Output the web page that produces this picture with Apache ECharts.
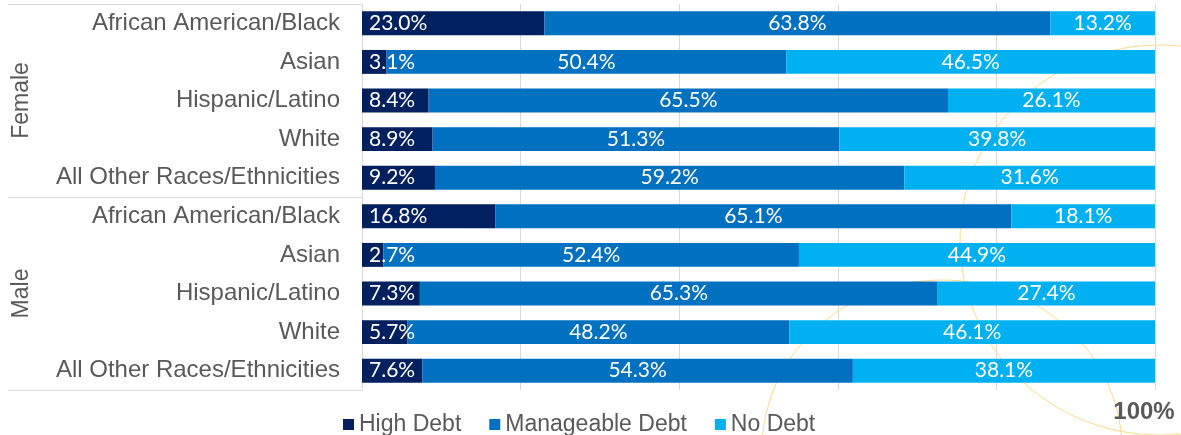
<!DOCTYPE html>
<html>
<head>
<meta charset="utf-8">
<script src="https://cdn.jsdelivr.net/npm/echarts@6/dist/echarts.min.js"></script>
<style>
html,body{margin:0;padding:0;background:#fff;}
#chart{width:1181px;height:435px;}
</style>
</head>
<body>
<div id="chart"></div>
<script>
const categories = [
  'African American/Black', 'Asian', 'Hispanic/Latino', 'White', 'All Other Races/Ethnicities',
  'African American/Black', 'Asian', 'Hispanic/Latino', 'White', 'All Other Races/Ethnicities'
];
const groups = ['Female', 'Male'];
const seriesNames = ['High Debt', 'Manageable Debt', 'No Debt'];
const highDebt = [23.0, 3.1, 8.4, 8.9, 9.2, 16.8, 2.7, 7.3, 5.7, 7.6];
const manageableDebt = [63.8, 50.4, 65.5, 51.3, 59.2, 65.1, 52.4, 65.3, 48.2, 54.3];
const noDebt = [13.2, 46.5, 26.1, 39.8, 31.6, 18.1, 44.9, 27.4, 46.1, 38.1];
const xTickLabel = '100%';

const colors = ['#002060', '#0070C0', '#00B0F0'];
const labelFont = 'Lato, "Open Sans", sans-serif';
const axisFont = '"Liberation Sans", Arial, sans-serif';

const chart = echarts.init(document.getElementById('chart'), null, {renderer: 'canvas'});

function makeSeries(name, data, idx) {
  return {
    name: name,
    type: 'bar',
    stack: 'total',
    barWidth: '62%',
    data: data,
    itemStyle: {color: colors[idx]},
    label: {
      show: true,
      position: idx === 0 ? 'insideLeft' : 'inside',
      distance: 7,
      color: '#fff',
      fontFamily: labelFont,
      fontWeight: 400,
      fontSize: 21,
      formatter: p => p.value.toFixed(1) + '%'
    },
    emphasis: {disabled: true}
  };
}

chart.setOption({
  animation: false,
  color: colors,
  grid: {left: 362, right: 26, top: 4, bottom: 45, containLabel: false},
  legend: {
    data: seriesNames,
    left: 338,
    top: 408,
    icon: 'rect',
    itemWidth: 11,
    itemHeight: 11,
    itemGap: 28,
    textStyle: {color: '#595959', fontSize: 23, fontFamily: axisFont}
  },
  xAxis: {
    type: 'value',
    min: 0,
    max: 100,
    interval: 20,
    axisLine: {show: false},
    axisTick: {show: false},
    splitLine: {show: true, lineStyle: {color: '#d9d9d9', width: 1}},
    axisLabel: {
      show: true,
      margin: 10,
      color: '#595959',
      fontSize: 24,
      fontWeight: 'bold',
      fontFamily: axisFont,
      padding: [0, 22, 0, 0],
      formatter: v => (v === 100 ? xTickLabel : '')
    }
  },
  yAxis: [
    {
      type: 'category',
      data: categories,
      inverse: true,
      axisLine: {show: true, lineStyle: {color: '#d9d9d9'}},
      axisTick: {show: false},
      axisLabel: {
        color: '#595959',
        fontSize: 24,
        fontFamily: axisFont,
        margin: 22,
        padding: [4, 0, 0, 0],
        interval: 0
      }
    },
    {
      type: 'category',
      data: groups,
      inverse: true,
      position: 'left',
      offset: 0,
      axisLine: {show: false},
      axisTick: {show: true, length: 354, lineStyle: {color: '#d9d9d9'}},
      axisLabel: {
        color: '#595959',
        fontSize: 23,
        fontFamily: axisFont,
        rotate: 90,
        margin: 329,
        interval: 0
      }
    }
  ],
  graphic: {
    elements: [
      {type: 'ellipse', z: -10, silent: true, shape: {cx: 1160, cy: 240, rx: 200, ry: 195},
       style: {fill: 'none', stroke: '#FCD98A', lineWidth: 1}},
      {type: 'ellipse', z: -10, silent: true, shape: {cx: 942, cy: 450, rx: 180, ry: 170},
       style: {fill: 'none', stroke: '#FCD98A', lineWidth: 1}}
    ]
  },
  series: [
    makeSeries(seriesNames[0], highDebt, 0),
    makeSeries(seriesNames[1], manageableDebt, 1),
    makeSeries(seriesNames[2], noDebt, 2)
  ]
});
</script>
</body>
</html>
